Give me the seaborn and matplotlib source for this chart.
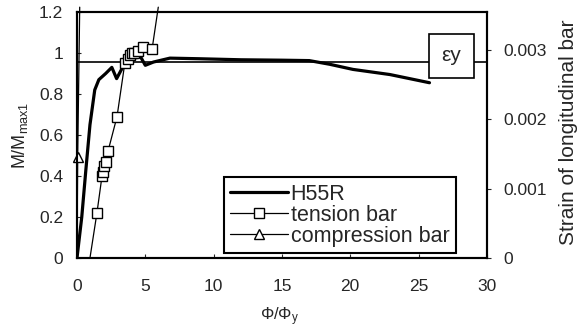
import matplotlib
matplotlib.use("Agg")
import matplotlib.pyplot as plt
import seaborn as sns
import pandas as pd
from matplotlib.ticker import FuncFormatter

# ---- data ----
h55r_x = [0, 0.35, 0.65, 0.95, 1.3, 1.6, 2.1, 2.55, 2.9, 3.5, 4.0, 4.5, 5.0,
          5.6, 6.8, 9.0, 12.0, 15.0, 17.0, 18.5, 20.2, 22.9, 25.8]
h55r_y = [0, 0.2, 0.43, 0.65, 0.82, 0.87, 0.9, 0.93, 0.875, 0.95, 1.0, 1.0, 0.94,
          0.956, 0.975, 0.972, 0.967, 0.965, 0.963, 0.945, 0.92, 0.895, 0.855]

tension_x = [0.95, 1.46, 1.83, 1.9, 2.0, 2.1, 2.27, 2.93, 3.5, 3.7, 3.9, 4.0,
             4.2, 4.5, 4.8, 5.5, 5.95]
tension_strain = [0.0, 0.00065, 0.00118, 0.00124, 0.00133, 0.00139, 0.00154,
                  0.00204, 0.00281, 0.00287, 0.00293, 0.00296, 0.00296,
                  0.00299, 0.00305, 0.00302, 0.00362]

compression_x = [0, 0.05, 0.2]
compression_strain = [0, 0.00146, 0.00362]

yield_strain = 0.00283
x_ticks = [0, 5, 10, 15, 20, 25, 30]
left_ticks = [0, 0.2, 0.4, 0.6, 0.8, 1.0, 1.2]
right_ticks = [0, 0.001, 0.002, 0.003]

# ---- style ----
sns.set_style("ticks")
plt.rcParams["font.family"] = ["Liberation Sans", "DejaVu Sans"]
plt.rcParams["mathtext.fontset"] = "custom"
plt.rcParams["mathtext.rm"] = "Liberation Sans"
plt.rcParams["mathtext.it"] = "Liberation Sans"

fig = plt.figure(figsize=(5.81, 3.31), dpi=100)
ax = fig.add_axes([0.1325, 0.2205, 0.7055, 0.7432])
ax2 = ax.twinx()

df_h = pd.DataFrame({"x": h55r_x, "y": h55r_y})
df_t = pd.DataFrame({"x": tension_x, "y": tension_strain})
df_c = pd.DataFrame({"x": compression_x, "y": compression_strain})

sns.lineplot(data=df_h, x="x", y="y", ax=ax, color="black", linewidth=2.3,
             sort=False, label="H55R", legend=False)

# yield strain line
ax2.axhline(yield_strain, color="black", linewidth=1.2, zorder=1)

sns.lineplot(data=df_t, x="x", y="y", ax=ax2, color="black", linewidth=0.9,
             sort=False, marker="s", markersize=6.5, markerfacecolor="white",
             markeredgecolor="black", markeredgewidth=1.0,
             markevery=list(range(1, len(tension_x) - 1)), clip_on=False,
             label="tension bar", legend=False)
sns.lineplot(data=df_c, x="x", y="y", ax=ax2, color="black", linewidth=0.9,
             sort=False, marker="^", markersize=6.5, markerfacecolor="white",
             markeredgecolor="black", markeredgewidth=1.0, markevery=[1],
             clip_on=False, label="compression bar", legend=False)

ax.set_xlim(0, 30)
ax.set_ylim(0, 1.2)
ax2.set_ylim(0, 0.00355)

fmt = FuncFormatter(lambda v, p: f"{v:g}")
ax.set_xticks(x_ticks)
ax.set_yticks(left_ticks)
ax.yaxis.set_major_formatter(fmt)
ax.xaxis.set_major_formatter(fmt)
ax2.set_yticks(right_ticks)
ax2.yaxis.set_major_formatter(fmt)

ax.tick_params(axis="x", direction="in", length=3, width=0.8, labelsize=12.5, pad=15)
ax.tick_params(axis="y", direction="in", length=3, width=0.8, labelsize=12.5, pad=10)
ax2.tick_params(axis="y", direction="out", length=3, width=0.8, labelsize=12.5, pad=9)

for a in (ax, ax2):
    for s in a.spines.values():
        s.set_linewidth(1.5)
        s.set_color("black")

ax.set_xlabel("")
ax.set_ylabel("")
ax2.set_xlabel("")
ax2.set_ylabel("")

fig.text(0.482, 0.042, r"$\Phi/\Phi_\mathrm{y}$", ha="center", va="center", fontsize=12)
fig.text(0.034, 0.592, r"M/M$_\mathrm{max1}$", ha="center", va="center",
         rotation=90, fontsize=13)
fig.text(0.978, 0.60, "Strain of longitudinal bar", ha="center", va="center",
         rotation=90, fontsize=15)

ax2.text(27.4, 0.00292, "εy", ha="center", va="center", fontsize=15,
         bbox=dict(boxstyle="square,pad=0.6", facecolor="white",
                   edgecolor="black", linewidth=1.2), zorder=5)

h1, l1 = ax.get_legend_handles_labels()
h2, l2 = ax2.get_legend_handles_labels()
leg = ax2.legend(h1 + h2, l1 + l2, loc="lower right",
                 bbox_to_anchor=(0.924, 0.02), fontsize=15.5, frameon=True,
                 fancybox=False, edgecolor="black", framealpha=1,
                 handlelength=2.7, handletextpad=0.1, borderpad=0.3,
                 labelspacing=0.0, borderaxespad=0)
leg.get_frame().set_linewidth(1.5)

fig.savefig("out.png", dpi=100)
